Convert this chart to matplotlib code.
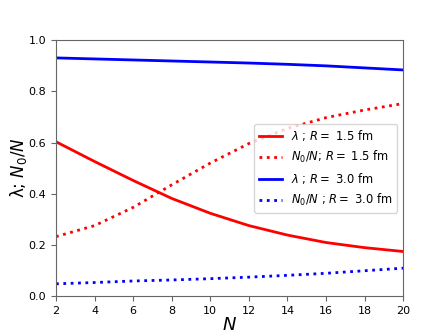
import numpy as np
import matplotlib.pyplot as plt

N = [2, 4, 6, 8, 10, 12, 14, 16, 18, 20]

# R = 1.5 fm
lam_15 = [0.603, 0.526, 0.452, 0.382, 0.324, 0.276, 0.239, 0.210, 0.190, 0.175]
frac_15 = [0.233, 0.276, 0.347, 0.435, 0.520, 0.596, 0.655, 0.697, 0.727, 0.752]

# R = 3.0 fm
lam_30 = [0.930, 0.926, 0.922, 0.918, 0.914, 0.910, 0.905, 0.899, 0.891, 0.883]
frac_30 = [0.049, 0.054, 0.060, 0.064, 0.069, 0.075, 0.082, 0.090, 0.100, 0.110]

fig, ax = plt.subplots(figsize=(4.48, 3.33), dpi=100)

ax.plot(N, lam_15, color='red', lw=2, label=r'$\lambda$ ; $R=$ 1.5 fm')
ax.plot(N, frac_15, color='red', lw=2, ls=':', label=r'$N_0/N$; $R=$ 1.5 fm')
ax.plot(N, lam_30, color='blue', lw=2, label=r'$\lambda$ ; $R=$ 3.0 fm')
ax.plot(N, frac_30, color='blue', lw=2, ls=':', label=r'$N_0/N$ ; $R=$ 3.0 fm')

ax.set_xlim(2, 20)
ax.set_ylim(0, 1)
ax.set_xticks(range(2, 21, 2))
ax.tick_params(labelsize=8, color='0.4')
for s in ax.spines.values():
    s.set_color('0.4')

ax.set_xlabel(r'$N$', fontsize=13, labelpad=0)
ax.set_ylabel(r'λ; $N_0/N$', fontsize=12, labelpad=0)
ax.legend(loc='center right', fontsize=8.3)

plt.savefig('out.png')
